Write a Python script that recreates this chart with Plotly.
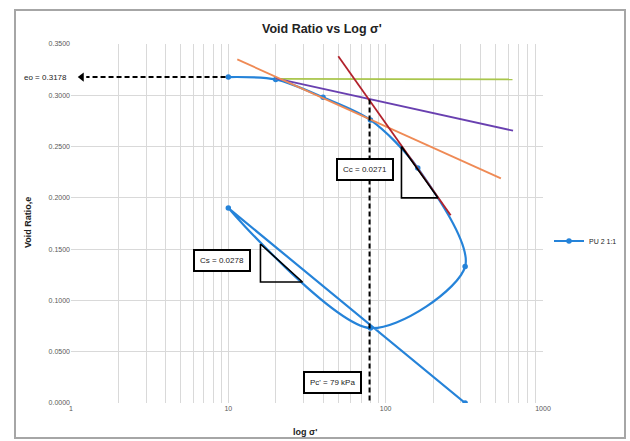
import plotly.graph_objects as go

# Oedometer test: effective stress (kPa) vs void ratio, load-unload-reload
pressure_kpa = [10, 20, 40, 80, 160, 320, 80, 10, 320]
void_ratio = [0.3178, 0.3155, 0.2980, 0.2760, 0.2290, 0.1330, 0.0730, 0.1900, 0.0000]

# Casagrande construction lines
horiz_x = [20, 640]
horiz_y = [0.3160, 0.3155]
bisector_x = [20, 645]
bisector_y = [0.3165, 0.2655]
tangent_x = [11.4, 540]
tangent_y = [0.3350, 0.2190]
virgin_x = [50, 259]
virgin_y = [0.3380, 0.1830]

# Slope triangles
cc_tri_x = [126, 126, 215, 126]
cc_tri_y = [0.2500, 0.2000, 0.2000, 0.2500]
cs_tri_x = [16, 16, 29.6, 16]
cs_tri_y = [0.1550, 0.1180, 0.1180, 0.1550]

# Initial void ratio and preconsolidation pressure
e0 = 0.3178
pc = 79
e0_arrow_x = [9.6, 1.25]
pc_arrow_y = [0.2960, -0.0030]

x_major = [1, 10, 100, 1000]
x_ticks = [m * d for d in [1, 10, 100] for m in range(1, 10)] + [1000]
x_labels = [str(v) if v in x_major else "" for v in x_ticks]
y_ticks = [0.0, 0.05, 0.10, 0.15, 0.20, 0.25, 0.30, 0.35]

BLUE = "#2583d9"
FONT = "Liberation Sans"

# plot area in pixels: x 71..543, y 44..403
def px(x):
    return (x - 71) / 472


def py(y):
    return (403 - y) / 359


fig = go.Figure()

fig.add_trace(go.Scatter(
    x=pressure_kpa, y=void_ratio, mode="lines+markers", name="PU 2 1:1",
    line=dict(color=BLUE, width=2.2, shape="spline", smoothing=0.85),
    marker=dict(color=BLUE, size=5.5),
))

for xs, ys, col in [(horiz_x, horiz_y, "#a9c64c"),
                    (bisector_x, bisector_y, "#6940b0"),
                    (tangent_x, tangent_y, "#ef8a55"),
                    (virgin_x, virgin_y, "#b2222c")]:
    fig.add_trace(go.Scatter(x=xs, y=ys, mode="lines", showlegend=False,
                             line=dict(color=col, width=1.8), hoverinfo="skip"))

for xs, ys in [(cc_tri_x, cc_tri_y), (cs_tri_x, cs_tri_y)]:
    fig.add_trace(go.Scatter(x=xs, y=ys, mode="lines", showlegend=False,
                             line=dict(color="black", width=1.6), hoverinfo="skip"))

# Dashed leaders with arrowheads
fig.add_trace(go.Scatter(x=e0_arrow_x, y=[e0, e0], mode="lines", showlegend=False,
                         line=dict(color="black", width=2, dash="5px,3px"), hoverinfo="skip"))
fig.add_trace(go.Scatter(x=[1.17], y=[e0], mode="markers", showlegend=False,
                         marker=dict(symbol="triangle-left", size=8, color="black"),
                         hoverinfo="skip", cliponaxis=False))
fig.add_trace(go.Scatter(x=[pc, pc], y=pc_arrow_y, mode="lines", showlegend=False,
                         line=dict(color="black", width=2, dash="5px,3px"),
                         hoverinfo="skip", cliponaxis=False))
fig.add_trace(go.Scatter(x=[pc], y=[-0.0065], mode="markers", showlegend=False,
                         marker=dict(symbol="triangle-down", size=8, color="black"),
                         hoverinfo="skip", cliponaxis=False))

box = dict(showarrow=False, bordercolor="black", borderwidth=2, bgcolor="white",
           font=dict(family=FONT, size=8, color="#222"), borderpad=5,
           xanchor="center", yanchor="middle")
fig.add_annotation(x=1.866, y=0.2272, xref="x", yref="y", text="Cc = 0.0271", **box)
fig.add_annotation(x=0.962, y=0.1385, xref="x", yref="y", text="Cs = 0.0278", **box)
fig.add_annotation(x=1.662, y=0.0196, xref="x", yref="y", text="Pc' = 79 kPa", **box)

fig.add_annotation(x=px(69), y=e0, xref="paper", yref="y", xanchor="right",
                   yanchor="middle", showarrow=False, text="eo = 0.3178",
                   font=dict(family=FONT, size=8, color="#222"))

# Titles
fig.add_annotation(x=px(322), y=py(29), xref="paper", yref="paper",
                   xanchor="center", yanchor="middle", showarrow=False,
                   text="<b>Void Ratio vs Log σ'</b>",
                   font=dict(family=FONT, size=12.5, color="#222"))
fig.add_annotation(x=px(305), y=py(432), xref="paper", yref="paper",
                   xanchor="center", yanchor="middle", showarrow=False,
                   text="<b>log σ'</b>",
                   font=dict(family=FONT, size=9, color="#222"))
fig.add_annotation(x=px(28), y=py(223), xref="paper", yref="paper",
                   xanchor="center", yanchor="middle", showarrow=False,
                   text="<b>Void Ratio,e</b>", textangle=-90,
                   font=dict(family=FONT, size=9, color="#222"))

# Chart frame
fig.add_shape(type="rect", xref="paper", yref="paper",
              x0=px(15), x1=px(625), y0=py(438), y1=py(10),
              line=dict(color="#a6a6a6", width=2), layer="below")

fig.update_xaxes(type="log", range=[0, 3], tickvals=x_ticks, ticktext=x_labels,
                 showgrid=True, gridcolor="#d9d9d9", gridwidth=1, zeroline=False,
                 ticks="", tickfont=dict(family=FONT, size=7, color="#595959"),
                 showline=False, automargin=False)
fig.update_yaxes(range=[0, 0.35], tickvals=y_ticks, tickformat=".4f",
                 showgrid=True, gridcolor="#d9d9d9", gridwidth=1, zeroline=False,
                 ticks="", tickfont=dict(family=FONT, size=7, color="#595959"),
                 showline=False, automargin=False)

fig.update_layout(
    width=630, height=441,
    margin=dict(l=71, r=87, t=44, b=38, autoexpand=False),
    paper_bgcolor="white", plot_bgcolor="white",
    showlegend=True,
    legend=dict(xref="container", yref="container", x=549 / 630, y=(441 - 241) / 441,
                xanchor="left", yanchor="middle",
                font=dict(family=FONT, size=7, color="#222"),
                bgcolor="rgba(0,0,0,0)", itemwidth=30),
)

fig.write_html("out.html")
